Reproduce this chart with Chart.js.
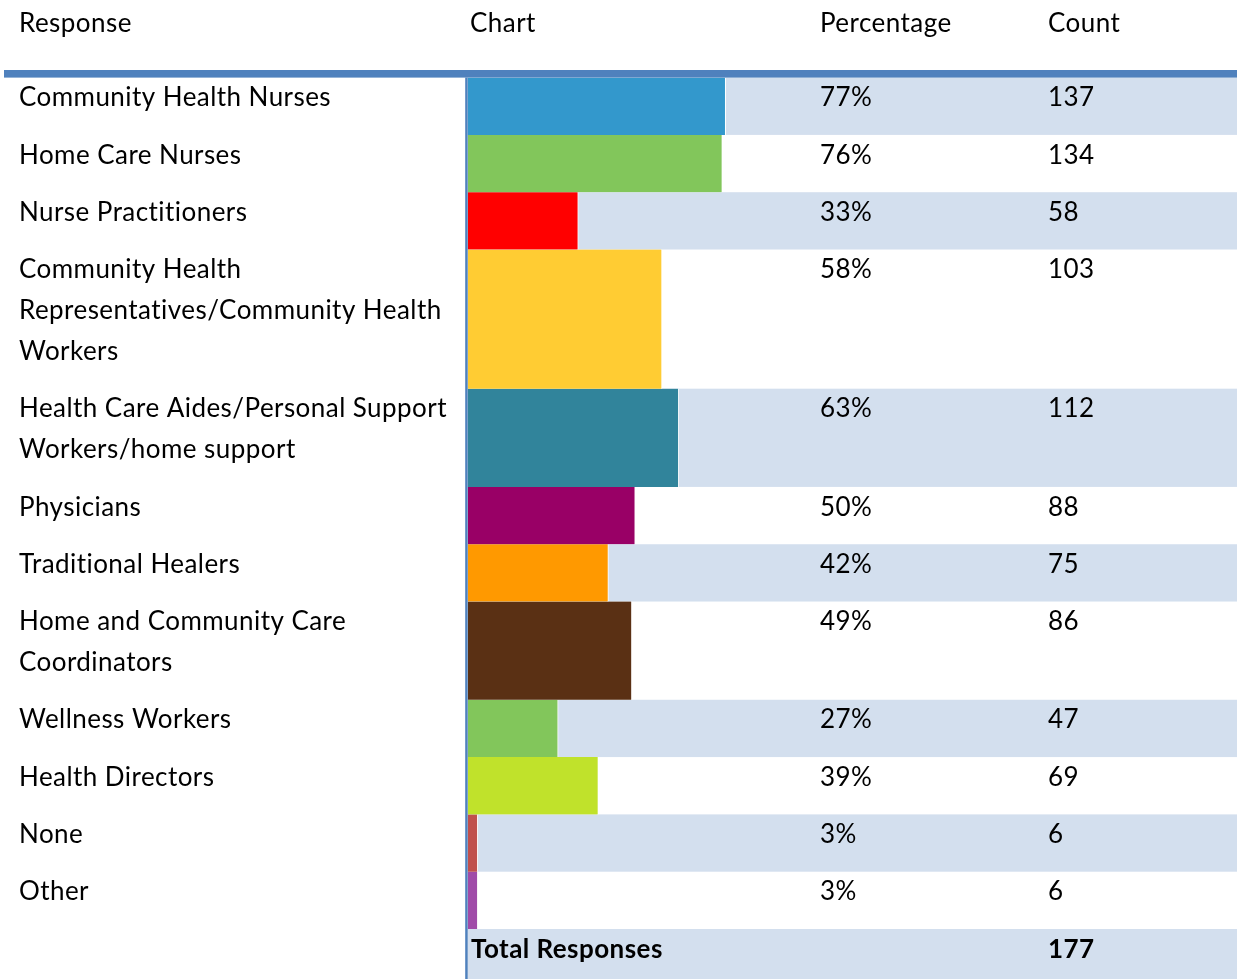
<!DOCTYPE html>
<html>
<head>
<meta charset="utf-8">
<script src="https://cdn.jsdelivr.net/npm/chart.js@4.4.0/dist/chart.umd.min.js"></script>
<style>
  html, body { margin: 0; padding: 0; background: #fff; }
</style>
</head>
<body>
<canvas id="responseChart" width="1237" height="979"></canvas>
<script>
// one entry per row, each label split into the lines it wraps to
const responses = [
  ['Community Health Nurses'],
  ['Home Care Nurses'],
  ['Nurse Practitioners'],
  ['Community Health', 'Representatives/Community Health', 'Workers'],
  ['Health Care Aides/Personal Support', 'Workers/home support'],
  ['Physicians'],
  ['Traditional Healers'],
  ['Home and Community Care', 'Coordinators'],
  ['Wellness Workers'],
  ['Health Directors'],
  ['None'],
  ['Other']
];
const percentages = [77, 76, 33, 58, 63, 50, 42, 49, 27, 39, 3, 3];
const counts = [137, 134, 58, 103, 112, 88, 75, 86, 47, 69, 6, 6];
const totalLabel = 'Total Responses';
const totalResponses = 177;
const headers = ['Response', 'Chart', 'Percentage', 'Count'];

const barColors = [
  '#3398cc', '#82c65b', '#ff0000', '#ffcc33', '#31849b', '#990066',
  '#ff9900', '#5a3014', '#82c65b', '#c0e22b', '#c0504d', '#a04ba8'
];

const ROW_PAD = 0.4;        // extra space per row, in line units
const BASELINE = 0.7;       // first text baseline below row top, in line units
const stripe = '#d3dfee';
const rule = '#4f81bd';
const FONT = '26px Lato';
const BOLD = 'bold 26px Lato';

// row positions along the y scale (line units)
const rowSize = responses.map(lines => lines.length + ROW_PAD);
const rowStart = [];
let acc = 0;
rowSize.forEach(s => { rowStart.push(acc); acc += s; });
const rowsEnd = acc;

const datasets = responses.map((lines, i) => ({
  label: lines.join(' '),
  data: [{ x: percentages[i], y: rowStart[i] + rowSize[i] / 2 }],
  backgroundColor: barColors[i],
  borderColor: '#ffffff',
  borderWidth: { top: 0, bottom: 0, left: 0, right: 1 },
  borderSkipped: false,
  grouped: false,
  barThickness: ctx => {
    const y = ctx.chart.scales.y;
    return Math.abs(y.getPixelForValue(rowSize[i]) - y.getPixelForValue(0));
  }
}));

const tablePlugin = {
  id: 'tablePlugin',
  beforeDatasetsDraw(chart) {
    const { ctx, chartArea, scales: { y }, width, height } = chart;
    ctx.save();
    ctx.fillStyle = stripe;
    responses.forEach((lines, i) => {
      if (i % 2 !== 0) return;
      const top = y.getPixelForValue(rowStart[i]);
      const bottom = y.getPixelForValue(rowStart[i] + rowSize[i]);
      ctx.fillRect(chartArea.left, top, width - chartArea.left, bottom - top);
    });
    // total row
    ctx.fillRect(chartArea.left, chartArea.bottom, width - chartArea.left, height - chartArea.bottom);
    ctx.restore();
  },
  afterDatasetsDraw(chart) {
    const { ctx, chartArea, scales: { y }, width, height } = chart;
    const unit = Math.abs(y.getPixelForValue(1) - y.getPixelForValue(0));
    const colX = [19, 470, 820, 1048];
    ctx.save();
    // header rule + left column rule
    ctx.fillStyle = rule;
    ctx.fillRect(4, 70, width - 4, 7.6);
    ctx.fillRect(chartArea.left - 2.5, chartArea.top, 2.5, height - chartArea.top);

    ctx.fillStyle = '#000';
    ctx.textBaseline = 'alphabetic';
    ctx.textAlign = 'left';
    ctx.letterSpacing = '0.45px';
    ctx.font = FONT;
    headers.forEach((h, k) => ctx.fillText(h, colX[k], 31.5));

    responses.forEach((lines, i) => {
      const base = y.getPixelForValue(rowStart[i] + BASELINE);
      lines.forEach((line, k) => ctx.fillText(line, colX[0], base + k * unit));
      ctx.fillText(percentages[i] + '%', colX[2], base);
      ctx.fillText(String(counts[i]), colX[3], base);
    });

    ctx.font = BOLD;
    const totalBase = chartArea.bottom + BASELINE * unit;
    ctx.fillText(totalLabel, colX[1] + 1, totalBase);
    ctx.fillText(String(totalResponses), colX[3], totalBase);
    ctx.restore();
  }
};

new Chart(document.getElementById('responseChart').getContext('2d'), {
  type: 'bar',
  data: { datasets: datasets },
  options: {
    responsive: false,
    animation: false,
    indexAxis: 'y',
    layout: { padding: { left: 467.7, right: 434.3, top: 77.6, bottom: 50 } },
    scales: {
      x: { type: 'linear', min: 0, max: 100, display: false },
      y: { type: 'linear', min: 0, max: rowsEnd, reverse: true, offset: false, display: false }
    },
    plugins: {
      legend: { display: false },
      tooltip: { enabled: false }
    }
  },
  plugins: [tablePlugin]
});
</script>
</body>
</html>
